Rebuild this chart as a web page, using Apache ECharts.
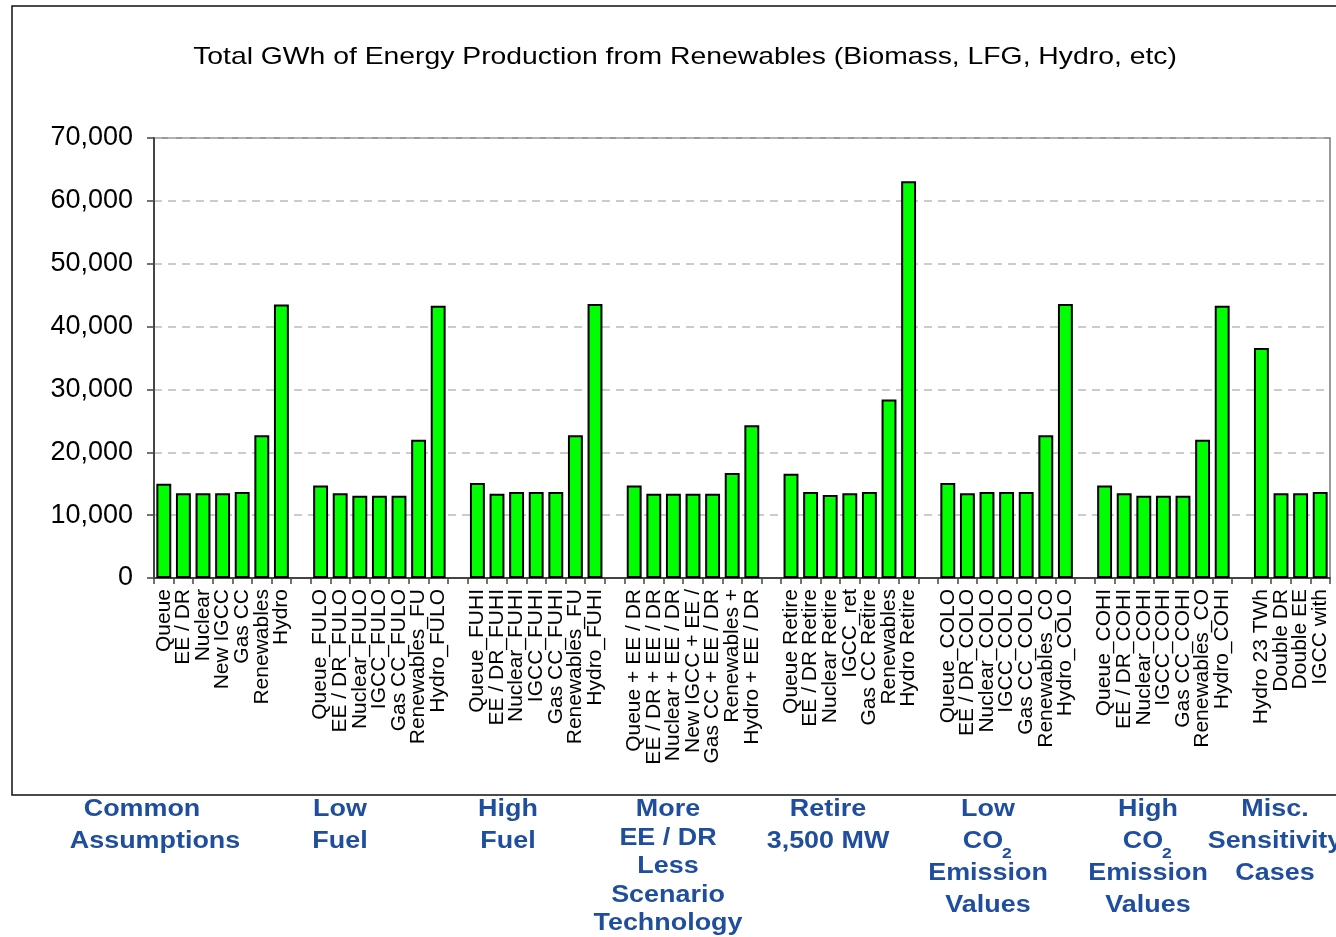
<!DOCTYPE html>
<html>
<head>
<meta charset="utf-8">
<script src="https://cdn.jsdelivr.net/npm/echarts@6/dist/echarts.min.js"></script>
<style>
  html, body { margin: 0; padding: 0; background: #fff; }
  #chart { width: 1336px; height: 937px; }
</style>
</head>
<body>
<div id="chart"></div>
<script>
// categories: '' entries are the blank slots between scenario groups
const categories = [
  'Queue', 'EE / DR', 'Nuclear', 'New IGCC', 'Gas CC', 'Renewables', 'Hydro', '',
  'Queue_FULO', 'EE / DR_FULO', 'Nuclear_FULO', 'IGCC_FULO', 'Gas CC_FULO', 'Renewables_FU', 'Hydro_FULO', '',
  'Queue_FUHI', 'EE / DR_FUHI', 'Nuclear_FUHI', 'IGCC_FUHI', 'Gas CC_FUHI', 'Renewables_FU', 'Hydro_FUHI', '',
  'Queue + EE / DR', 'EE / DR + EE / DR', 'Nuclear + EE / DR', 'New IGCC + EE /', 'Gas CC + EE / DR', 'Renewables +', 'Hydro + EE / DR', '',
  'Queue Retire', 'EE / DR Retire', 'Nuclear Retire', 'IGCC_ret', 'Gas CC Retire', 'Renewables', 'Hydro Retire', '',
  'Queue_COLO', 'EE / DR_COLO', 'Nuclear_COLO', 'IGCC_COLO', 'Gas CC_COLO', 'Renewables_CO', 'Hydro_COLO', '',
  'Queue_COHI', 'EE / DR_COHI', 'Nuclear_COHI', 'IGCC_COHI', 'Gas CC_COHI', 'Renewables_CO', 'Hydro_COHI', '',
  'Hydro 23 TWh', 'Double DR', 'Double EE', 'IGCC with'
];

// GWh
const gwh = [
  15000, 13500, 13500, 13500, 13700, 22700, 43500, null,
  14700, 13500, 13100, 13100, 13100, 22000, 43300, null,
  15100, 13400, 13700, 13700, 13700, 22700, 43600, null,
  14700, 13400, 13400, 13400, 13400, 16700, 24300, null,
  16600, 13700, 13200, 13500, 13700, 28400, 63100, null,
  15100, 13500, 13700, 13700, 13700, 22700, 43600, null,
  14700, 13500, 13100, 13100, 13100, 22000, 43300, null,
  36600, 13500, 13500, 13700
];

const titleText = 'Total GWh of Energy Production from Renewables (Biomass, LFG, Hydro, etc)';

// scenario captions under the chart box, one line per entry ('CO2' gets a subscript)
const groupCaptions = [
  ['Common', 'Assumptions'],
  ['Low', 'Fuel'],
  ['High', 'Fuel'],
  ['More', 'EE / DR', 'Less', 'Scenario', 'Technology'],
  ['Retire', '3,500 MW'],
  ['Low', 'CO2', 'Emission', 'Values'],
  ['High', 'CO2', 'Emission', 'Values'],
  ['Misc.', 'Sensitivity', 'Cases']
];

const captionX = [155, 340, 508, 668, 828, 988, 1148, 1275];
const captionBlue = '#1f4e9e';
const FONT = '"Liberation Sans", Arial, sans-serif';

let graphics = [];
// outer chart box
graphics.push({
  type: 'rect', z: -10,
  shape: { x: 12, y: 6, width: 1340, height: 789 },
  style: { fill: '#fff', stroke: '#111', lineWidth: 1.5 }
});
// title
graphics.push({
  type: 'text', x: 685, y: 57, scaleX: 1.18,
  style: { text: titleText, font: '24px ' + FONT, fill: '#000', align: 'center', verticalAlign: 'middle' }
});

for (let g = 0; g < groupCaptions.length; g++) {
  let lines = groupCaptions[g];
  let step = lines.length === 5 ? 28.5 : 32;
  for (let k = 0; k < lines.length; k++) {
    let y = 810 + k * step;
    let cx = captionX[g];
    if (g === 0 && k === 0) cx = 142;
    if (lines[k] === 'CO2') {
      graphics.push({
        type: 'text', x: cx - 5, y: y, scaleX: 1.17,
        style: { text: 'CO', font: 'bold 23px ' + FONT, fill: captionBlue, align: 'center', verticalAlign: 'middle' }
      });
      graphics.push({
        type: 'text', x: cx + 19, y: y + 12, scaleX: 1.17,
        style: { text: '2', font: 'bold 15px ' + FONT, fill: captionBlue, align: 'center', verticalAlign: 'middle' }
      });
    } else {
      graphics.push({
        type: 'text', x: cx, y: y, scaleX: 1.17,
        style: { text: lines[k], font: 'bold 23px ' + FONT, fill: captionBlue, align: 'center', verticalAlign: 'middle' }
      });
    }
  }
}

const chart = echarts.init(document.getElementById('chart'), null, { renderer: 'canvas' });

const option = {
  backgroundColor: '#fff',
  animation: false,
  textStyle: { fontFamily: FONT },
  grid: {
    left: 154, right: 6, top: 138, bottom: 359,
    show: true, borderColor: '#7a7a7a', borderWidth: 1.5, backgroundColor: 'transparent'
  },
  xAxis: {
    type: 'category',
    data: categories,
    axisLine: { lineStyle: { color: '#444', width: 2 } },
    axisTick: { show: true, length: 6, lineStyle: { color: '#444', width: 1.5 } },
    axisLabel: {
      interval: 0, rotate: 90, margin: 11,
      fontSize: 21, color: '#000', fontFamily: FONT
    }
  },
  yAxis: {
    type: 'value',
    min: 0, max: 70000, interval: 10000,
    axisLine: { show: true, lineStyle: { color: '#444', width: 2 } },
    axisTick: { show: true, length: 7, lineStyle: { color: '#444', width: 1.5 } },
    axisLabel: {
      fontSize: 27, color: '#000', margin: 21, fontFamily: FONT,
      formatter: function (v) { return v.toLocaleString('en-US'); }
    },
    splitLine: { show: true, lineStyle: { color: '#bbb', width: 1.5, type: [8, 6] } }
  },
  series: [{
    type: 'bar',
    data: gwh,
    barCategoryGap: '24%',
    itemStyle: { color: '#00ff00', borderColor: '#000', borderWidth: 2 }
  }],
  graphic: graphics
};

chart.setOption(option);
</script>
</body>
</html>
